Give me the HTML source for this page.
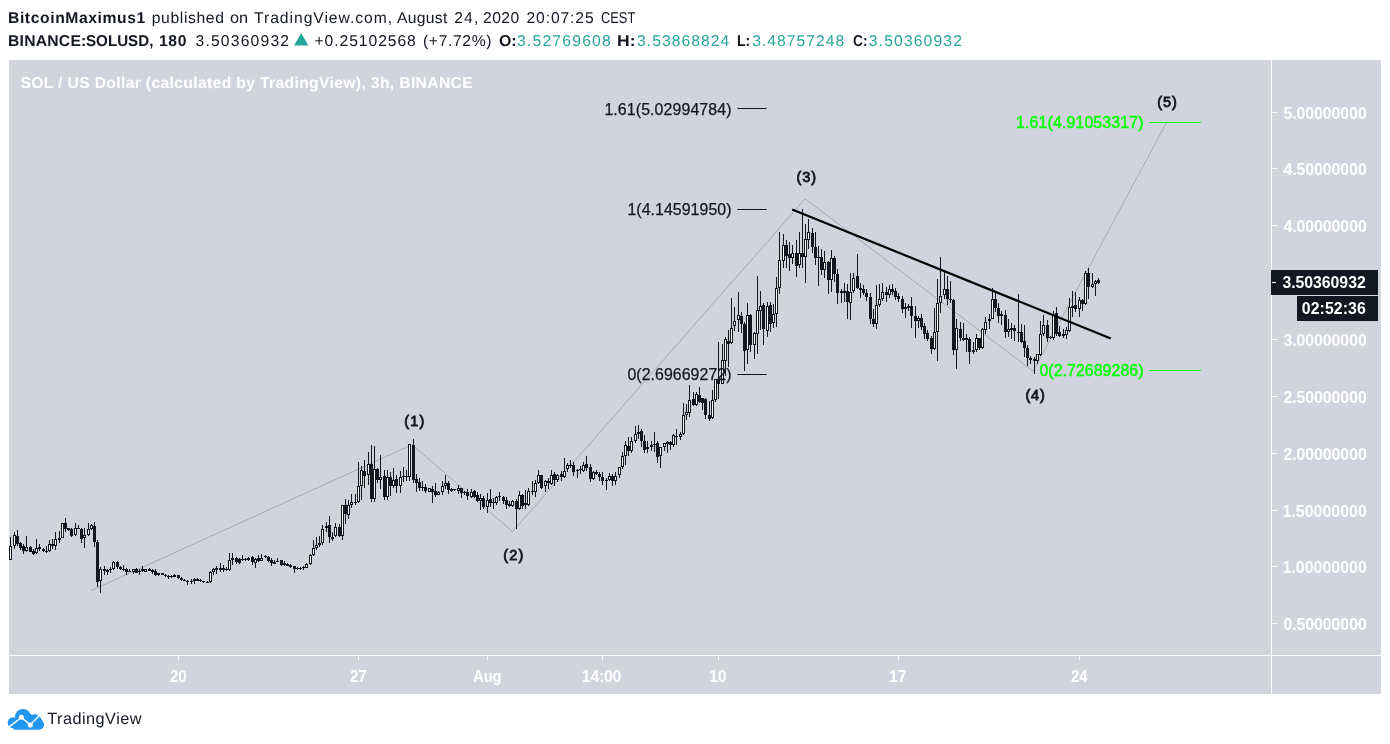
<!DOCTYPE html>
<html><head><meta charset="utf-8"><title>SOLUSD chart</title>
<style>
html,body{margin:0;padding:0;background:#fff}
body{width:1390px;height:744px;position:relative;overflow:hidden;font-family:'Liberation Sans',sans-serif}
.t{position:absolute;white-space:pre;line-height:1;font-family:'Liberation Sans',sans-serif;transform-origin:0 0}
#chart{position:absolute;left:9px;top:60px;width:1372px;height:634px;background:#d1d4dc}
svg{position:absolute;left:0;top:0}
.layer{position:absolute;left:0;top:0;width:1390px;height:744px;will-change:transform}
</style></head><body>
<div id="chart"></div>
<svg width="1390" height="744" viewBox="0 0 1390 744" shape-rendering="crispEdges">
<rect x="1271" y="60" width="1" height="634" fill="#fff"/>
<rect x="9" y="655" width="1372" height="1" fill="#fff"/>
<rect x="1272" y="112" width="5" height="1" fill="#fff"/><rect x="1272" y="168" width="5" height="1" fill="#fff"/><rect x="1272" y="225" width="5" height="1" fill="#fff"/><rect x="1272" y="339" width="5" height="1" fill="#fff"/><rect x="1272" y="396" width="5" height="1" fill="#fff"/><rect x="1272" y="453" width="5" height="1" fill="#fff"/><rect x="1272" y="510" width="5" height="1" fill="#fff"/><rect x="1272" y="566" width="5" height="1" fill="#fff"/><rect x="1272" y="623" width="5" height="1" fill="#fff"/><rect x="178" y="656" width="1" height="4" fill="#fff"/><rect x="358" y="656" width="1" height="4" fill="#fff"/><rect x="487" y="656" width="1" height="4" fill="#fff"/><rect x="602" y="656" width="1" height="4" fill="#fff"/><rect x="718" y="656" width="1" height="4" fill="#fff"/><rect x="898" y="656" width="1" height="4" fill="#fff"/><rect x="1079" y="656" width="1" height="4" fill="#fff"/>
<g shape-rendering="geometricPrecision" fill="none">
<path d="M90.7 590.9 L412 444.7 L512.5 531.6 L805.2 198.8 L1033.1 371.2 L1166 123.5" stroke="#a6a9b1" stroke-width="1"/>
<path d="M737.4 108.5H766.6M737.4 209.5H766.6M737.4 374.5H766.6" stroke="#131722" stroke-width="1"/>
<path d="M1149.3 122.5H1201M1149.3 370.5H1201" stroke="#00ff00" stroke-width="1.2"/>
</g>
</svg>

<svg width="1390" height="744" viewBox="0 0 1390 744" shape-rendering="crispEdges">
<path d="M10 537h1v23h-1zM9 546h3v14h-3zM14 532h1v17h-1zM13 535h3v11h-3zM17 530h1v16h-1zM16 536h3v8h-3zM20 542h1v8h-1zM19 543h3v5h-3zM23 544h1v10h-1zM22 546h3v5h-3zM26 536h1v16h-1zM25 547h3v4h-3zM30 546h1v6h-1zM29 547h3v5h-3zM33 549h1v6h-1zM32 551h3v3h-3zM36 539h1v15h-1zM35 548h3v5h-3zM39 544h1v7h-1zM38 547h3v2h-3zM43 548h1v4h-1zM42 549h3v2h-3zM46 546h1v7h-1zM45 551h3v1h-3zM49 540h1v12h-1zM48 544h3v7h-3zM52 539h1v10h-1zM51 544h3v2h-3zM55 532h1v18h-1zM54 539h3v7h-3zM59 531h1v12h-1zM58 538h3v2h-3zM62 523h1v15h-1zM61 523h3v15h-3zM65 518h1v14h-1zM64 523h3v6h-3zM68 528h1v3h-1zM67 528h3v2h-3zM71 528h1v9h-1zM70 529h3v7h-3zM75 523h1v13h-1zM74 528h3v7h-3zM78 525h1v4h-1zM77 528h3v1h-3zM81 528h1v15h-1zM80 529h3v10h-3zM84 528h1v20h-1zM83 535h3v3h-3zM88 523h1v13h-1zM87 529h3v6h-3zM91 524h1v6h-1zM90 525h3v4h-3zM94 522h1v25h-1zM93 526h3v16h-3zM97 540h1v47h-1zM96 542h3v40h-3zM100 567h1v26h-1zM99 569h3v12h-3zM104 566h1v9h-1zM103 569h3v2h-3zM107 569h1v6h-1zM106 570h3v2h-3zM110 567h1v6h-1zM109 569h3v1h-3zM113 561h1v9h-1zM112 562h3v7h-3zM117 561h1v8h-1zM116 562h3v5h-3zM120 566h1v4h-1zM119 567h3v2h-3zM123 565h1v6h-1zM122 569h3v1h-3zM126 568h1v7h-1zM125 569h3v3h-3zM129 569h1v3h-1zM128 571h3v1h-3zM133 569h1v5h-1zM132 569h3v3h-3zM136 568h1v5h-1zM135 569h3v4h-3zM139 569h1v6h-1zM138 571h3v1h-3zM142 566h1v6h-1zM141 569h3v2h-3zM145 569h1v3h-1zM144 569h3v3h-3zM149 568h1v3h-1zM148 569h3v2h-3zM152 569h1v5h-1zM151 570h3v2h-3zM155 569h1v7h-1zM154 571h3v4h-3zM158 573h1v3h-1zM157 573h3v2h-3zM162 573h1v2h-1zM161 573h3v2h-3zM165 574h1v3h-1zM164 575h3v1h-3zM168 575h1v4h-1zM167 576h3v1h-3zM171 575h1v3h-1zM170 576h3v1h-3zM174 574h1v3h-1zM173 575h3v2h-3zM178 575h1v4h-1zM177 575h3v3h-3zM181 577h1v4h-1zM180 578h3v2h-3zM184 579h1v2h-1zM183 580h3v1h-3zM187 580h1v5h-1zM186 581h3v1h-3zM191 579h1v5h-1zM190 581h3v1h-3zM194 578h1v6h-1zM193 579h3v2h-3zM197 578h1v3h-1zM196 579h3v2h-3zM200 579h1v3h-1zM199 580h3v1h-3zM203 581h1v2h-1zM202 581h3v1h-3zM207 581h1v2h-1zM206 582h3v1h-3zM210 571h1v12h-1zM209 572h3v10h-3zM213 568h1v7h-1zM212 569h3v3h-3zM216 566h1v8h-1zM215 568h3v2h-3zM220 563h1v9h-1zM219 568h3v2h-3zM223 565h1v7h-1zM222 568h3v2h-3zM226 567h1v4h-1zM225 569h3v1h-3zM229 553h1v18h-1zM228 560h3v10h-3zM232 553h1v12h-1zM231 558h3v2h-3zM236 557h1v7h-1zM235 558h3v4h-3zM239 558h1v6h-1zM238 559h3v4h-3zM242 555h1v6h-1zM241 559h3v1h-3zM245 558h1v3h-1zM244 559h3v1h-3zM248 557h1v4h-1zM247 558h3v2h-3zM252 556h1v9h-1zM251 557h3v5h-3zM255 558h1v10h-1zM254 559h3v4h-3zM258 555h1v7h-1zM257 558h3v3h-3zM261 554h1v7h-1zM260 558h3v3h-3zM265 555h1v3h-1zM264 556h3v1h-3zM268 556h1v6h-1zM267 557h3v4h-3zM271 558h1v8h-1zM270 560h3v3h-3zM274 560h1v4h-1zM273 562h3v2h-3zM277 558h1v4h-1zM276 561h3v1h-3zM281 560h1v6h-1zM280 560h3v5h-3zM284 561h1v5h-1zM283 563h3v2h-3zM287 563h1v3h-1zM286 564h3v2h-3zM290 564h1v4h-1zM289 565h3v2h-3zM294 566h1v7h-1zM293 566h3v3h-3zM297 567h1v3h-1zM296 568h3v1h-3zM300 567h1v3h-1zM299 568h3v1h-3zM303 566h1v4h-1zM302 567h3v1h-3zM306 563h1v5h-1zM305 564h3v4h-3zM310 554h1v11h-1zM309 555h3v9h-3zM313 540h1v16h-1zM312 548h3v7h-3zM316 537h1v13h-1zM315 545h3v3h-3zM319 536h1v11h-1zM318 543h3v2h-3zM322 525h1v20h-1zM321 529h3v14h-3zM326 522h1v10h-1zM325 526h3v2h-3zM329 516h1v27h-1zM328 525h3v12h-3zM332 532h1v9h-1zM331 537h3v2h-3zM335 523h1v14h-1zM334 527h3v9h-3zM339 524h1v13h-1zM338 527h3v9h-3zM342 505h1v35h-1zM341 505h3v31h-3zM345 499h1v25h-1zM344 505h3v9h-3zM348 500h1v19h-1zM347 505h3v10h-3zM351 494h1v14h-1zM350 502h3v3h-3zM355 494h1v11h-1zM354 502h3v1h-3zM358 462h1v41h-1zM357 486h3v16h-3zM361 466h1v34h-1zM360 470h3v16h-3zM364 460h1v28h-1zM363 471h3v5h-3zM368 452h1v33h-1zM367 464h3v11h-3zM371 445h1v57h-1zM370 464h3v35h-3zM374 446h1v56h-1zM373 469h3v30h-3zM377 468h1v15h-1zM376 469h3v11h-3zM380 455h1v34h-1zM379 477h3v3h-3zM384 470h1v30h-1zM383 476h3v21h-3zM387 470h1v30h-1zM386 477h3v20h-3zM390 472h1v24h-1zM389 477h3v9h-3zM393 468h1v20h-1zM392 480h3v6h-3zM396 475h1v18h-1zM395 479h3v7h-3zM400 471h1v22h-1zM399 477h3v9h-3zM403 467h1v15h-1zM402 476h3v1h-3zM406 470h1v11h-1zM405 476h3v1h-3zM409 444h1v37h-1zM408 444h3v33h-3zM413 439h1v44h-1zM412 445h3v35h-3zM416 474h1v18h-1zM415 479h3v4h-3zM419 478h1v13h-1zM418 482h3v6h-3zM422 481h1v10h-1zM421 487h3v1h-3zM425 484h1v9h-1zM424 487h3v4h-3zM429 488h1v4h-1zM428 488h3v4h-3zM432 486h1v17h-1zM431 489h3v3h-3zM435 483h1v14h-1zM434 491h3v4h-3zM438 491h1v4h-1zM437 492h3v3h-3zM442 481h1v14h-1zM441 486h3v6h-3zM445 475h1v14h-1zM444 483h3v3h-3zM448 481h1v13h-1zM447 483h3v7h-3zM451 488h1v4h-1zM450 489h3v2h-3zM454 489h1v2h-1zM453 489h3v1h-3zM458 485h1v9h-1zM457 488h3v3h-3zM461 488h1v10h-1zM460 488h3v5h-3zM464 491h1v4h-1zM463 492h3v1h-3zM467 489h1v11h-1zM466 492h3v4h-3zM471 489h1v9h-1zM470 492h3v5h-3zM474 490h1v8h-1zM473 491h3v6h-3zM477 492h1v10h-1zM476 495h3v6h-3zM480 494h1v16h-1zM479 498h3v3h-3zM483 496h1v13h-1zM482 498h3v9h-3zM487 493h1v20h-1zM486 500h3v7h-3zM490 489h1v18h-1zM489 499h3v4h-3zM493 498h1v11h-1zM492 502h3v1h-3zM496 496h1v9h-1zM495 497h3v6h-3zM499 492h1v9h-1zM498 496h3v1h-3zM503 496h1v8h-1zM502 497h3v4h-3zM506 497h1v12h-1zM505 500h3v5h-3zM509 501h1v6h-1zM508 504h3v2h-3zM512 500h1v7h-1zM511 501h3v5h-3zM516 499h1v30h-1zM515 501h3v8h-3zM519 491h1v19h-1zM518 495h3v14h-3zM522 494h1v15h-1zM521 495h3v11h-3zM525 490h1v19h-1zM524 503h3v2h-3zM528 488h1v18h-1zM527 491h3v14h-3zM532 481h1v14h-1zM531 491h3v1h-3zM535 480h1v17h-1zM534 483h3v9h-3zM538 470h1v14h-1zM537 475h3v8h-3zM541 475h1v14h-1zM540 475h3v13h-3zM545 480h1v12h-1zM544 481h3v5h-3zM548 478h1v11h-1zM547 481h3v2h-3zM551 470h1v15h-1zM550 475h3v9h-3zM554 472h1v14h-1zM553 474h3v6h-3zM557 474h1v8h-1zM556 475h3v5h-3zM561 471h1v10h-1zM560 474h3v3h-3zM564 458h1v20h-1zM563 471h3v6h-3zM567 463h1v9h-1zM566 465h3v4h-3zM570 460h1v8h-1zM569 465h3v1h-3zM573 462h1v14h-1zM572 465h3v7h-3zM577 469h1v9h-1zM576 470h3v1h-3zM580 466h1v8h-1zM579 469h3v1h-3zM583 462h1v10h-1zM582 465h3v6h-3zM586 456h1v15h-1zM585 464h3v4h-3zM590 464h1v18h-1zM589 467h3v12h-3zM593 471h1v9h-1zM592 472h3v7h-3zM596 470h1v5h-1zM595 472h3v2h-3zM599 472h1v9h-1zM598 474h3v3h-3zM602 472h1v13h-1zM601 477h3v4h-3zM606 478h1v12h-1zM605 480h3v1h-3zM609 473h1v8h-1zM608 476h3v4h-3zM612 474h1v12h-1zM611 476h3v5h-3zM615 472h1v13h-1zM614 476h3v5h-3zM619 467h1v11h-1zM618 467h3v8h-3zM622 452h1v17h-1zM621 456h3v11h-3zM625 441h1v24h-1zM624 445h3v11h-3zM628 437h1v19h-1zM627 446h3v5h-3zM631 437h1v16h-1zM630 441h3v10h-3zM635 426h1v17h-1zM634 434h3v7h-3zM638 425h1v14h-1zM637 432h3v2h-3zM641 429h1v18h-1zM640 431h3v10h-3zM644 435h1v18h-1zM643 441h3v9h-3zM647 441h1v12h-1zM646 447h3v2h-3zM651 441h1v10h-1zM650 445h3v2h-3zM654 432h1v20h-1zM653 444h3v1h-3zM657 441h1v22h-1zM656 443h3v14h-3zM660 447h1v21h-1zM659 447h3v9h-3zM664 443h1v8h-1zM663 443h3v4h-3zM667 441h1v12h-1zM666 442h3v2h-3zM670 441h1v9h-1zM669 442h3v3h-3zM673 434h1v13h-1zM672 435h3v10h-3zM676 429h1v16h-1zM675 436h3v1h-3zM680 432h1v8h-1zM679 434h3v3h-3zM683 403h1v32h-1zM682 415h3v19h-3zM686 404h1v16h-1zM685 412h3v3h-3zM689 385h1v32h-1zM688 400h3v13h-3zM693 392h1v14h-1zM692 399h3v6h-3zM696 392h1v14h-1zM695 394h3v11h-3zM699 387h1v16h-1zM698 395h3v7h-3zM702 398h1v12h-1zM701 398h3v5h-3zM705 398h1v21h-1zM704 399h3v16h-3zM709 401h1v20h-1zM708 415h3v4h-3zM712 390h1v29h-1zM711 400h3v18h-3zM715 379h1v23h-1zM714 379h3v21h-3zM718 342h1v57h-1zM717 379h3v5h-3zM722 344h1v40h-1zM721 360h3v24h-3zM725 337h1v39h-1zM724 339h3v22h-3zM728 330h1v37h-1zM727 341h3v3h-3zM731 298h1v46h-1zM730 328h3v15h-3zM734 307h1v24h-1zM733 321h3v5h-3zM738 292h1v40h-1zM737 315h3v5h-3zM741 312h1v21h-1zM740 316h3v8h-3zM744 322h1v49h-1zM743 324h3v27h-3zM747 303h1v61h-1zM746 315h3v35h-3zM750 314h1v38h-1zM749 315h3v30h-3zM754 332h1v27h-1zM753 333h3v12h-3zM757 276h1v78h-1zM756 310h3v24h-3zM760 291h1v39h-1zM759 306h3v5h-3zM763 303h1v42h-1zM762 305h3v24h-3zM767 302h1v35h-1zM766 306h3v25h-3zM770 302h1v30h-1zM769 305h3v19h-3zM773 304h1v24h-1zM772 314h3v9h-3zM776 277h1v50h-1zM775 288h3v26h-3zM779 232h1v62h-1zM778 260h3v28h-3zM783 234h1v34h-1zM782 245h3v16h-3zM786 240h1v28h-1zM785 245h3v11h-3zM789 242h1v29h-1zM788 254h3v4h-3zM792 245h1v19h-1zM791 253h3v5h-3zM796 240h1v37h-1zM795 253h3v13h-3zM799 232h1v36h-1zM798 253h3v12h-3zM802 209h1v59h-1zM801 253h3v4h-3zM805 224h1v59h-1zM804 239h3v18h-3zM808 219h1v30h-1zM807 232h3v8h-3zM812 228h1v25h-1zM811 233h3v14h-3zM815 232h1v33h-1zM814 247h3v11h-3zM818 246h1v40h-1zM817 257h3v1h-3zM821 249h1v26h-1zM820 257h3v13h-3zM824 251h1v27h-1zM823 262h3v8h-3zM828 261h1v33h-1zM827 262h3v18h-3zM831 250h1v42h-1zM830 258h3v22h-3zM834 256h1v26h-1zM833 258h3v16h-3zM837 269h1v35h-1zM836 274h3v19h-3zM841 289h1v14h-1zM840 291h3v2h-3zM844 283h1v19h-1zM843 291h3v2h-3zM847 284h1v35h-1zM846 291h3v11h-3zM850 273h1v47h-1zM849 292h3v11h-3zM853 273h1v20h-1zM852 278h3v13h-3zM857 254h1v35h-1zM856 276h3v12h-3zM860 283h1v15h-1zM859 288h3v2h-3zM863 285h1v10h-1zM862 289h3v4h-3zM866 289h1v12h-1zM865 293h3v4h-3zM870 293h1v31h-1zM869 297h3v22h-3zM873 309h1v18h-1zM872 319h3v5h-3zM876 285h1v44h-1zM875 305h3v19h-3zM879 284h1v23h-1zM878 299h3v6h-3zM882 283h1v18h-1zM881 292h3v7h-3zM886 287h1v15h-1zM885 292h3v3h-3zM889 285h1v13h-1zM888 289h3v6h-3zM892 284h1v11h-1zM891 289h3v3h-3zM895 288h1v12h-1zM894 291h3v6h-3zM898 293h1v9h-1zM897 296h3v3h-3zM902 296h1v17h-1zM901 299h3v10h-3zM905 303h1v15h-1zM904 307h3v2h-3zM908 304h1v7h-1zM907 306h3v2h-3zM911 297h1v31h-1zM910 306h3v10h-3zM915 306h1v32h-1zM914 316h3v5h-3zM918 316h1v12h-1zM917 318h3v3h-3zM921 314h1v16h-1zM920 318h3v9h-3zM924 323h1v16h-1zM923 326h3v8h-3zM927 330h1v11h-1zM926 333h3v6h-3zM931 336h1v18h-1zM930 338h3v11h-3zM934 308h1v42h-1zM933 332h3v17h-3zM937 279h1v82h-1zM936 303h3v29h-3zM940 257h1v56h-1zM939 296h3v7h-3zM944 271h1v28h-1zM943 289h3v6h-3zM947 276h1v29h-1zM946 289h3v10h-3zM950 281h1v22h-1zM949 299h3v1h-3zM953 299h1v56h-1zM952 300h3v50h-3zM956 319h1v50h-1zM955 328h3v22h-3zM960 322h1v19h-1zM959 329h3v9h-3zM963 323h1v18h-1zM962 338h3v2h-3zM966 334h1v18h-1zM965 338h3v2h-3zM969 337h1v27h-1zM968 339h3v13h-3zM973 342h1v12h-1zM972 350h3v2h-3zM976 334h1v18h-1zM975 338h3v12h-3zM979 338h1v12h-1zM978 338h3v10h-3zM982 328h1v21h-1zM981 329h3v19h-3zM985 317h1v17h-1zM984 322h3v8h-3zM989 314h1v15h-1zM988 319h3v2h-3zM992 288h1v31h-1zM991 299h3v20h-3zM995 293h1v19h-1zM994 299h3v9h-3zM998 303h1v20h-1zM997 308h3v8h-3zM1001 311h1v14h-1zM1000 314h3v2h-3zM1005 310h1v28h-1zM1004 315h3v17h-3zM1008 319h1v18h-1zM1007 329h3v3h-3zM1011 323h1v16h-1zM1010 328h3v2h-3zM1014 325h1v16h-1zM1013 328h3v3h-3zM1018 294h1v48h-1zM1017 332h3v1h-3zM1021 324h1v19h-1zM1020 332h3v10h-3zM1024 325h1v32h-1zM1023 341h3v7h-3zM1027 345h1v21h-1zM1026 348h3v10h-3zM1030 356h1v8h-1zM1029 358h3v2h-3zM1034 357h1v17h-1zM1033 359h3v2h-3zM1037 354h1v10h-1zM1036 354h3v7h-3zM1040 321h1v35h-1zM1039 334h3v21h-3zM1043 315h1v21h-1zM1042 325h3v9h-3zM1047 320h1v22h-1zM1046 325h3v13h-3zM1050 336h1v3h-1zM1049 337h3v1h-3zM1053 311h1v29h-1zM1052 315h3v23h-3zM1056 307h1v29h-1zM1055 313h3v21h-3zM1059 326h1v11h-1zM1058 332h3v4h-3zM1063 329h1v9h-1zM1062 334h3v2h-3zM1066 327h1v12h-1zM1065 330h3v5h-3zM1069 298h1v34h-1zM1068 307h3v24h-3zM1072 291h1v26h-1zM1071 306h3v2h-3zM1075 292h1v20h-1zM1074 305h3v4h-3zM1079 297h1v20h-1zM1078 300h3v9h-3zM1082 299h1v12h-1zM1081 300h3v4h-3zM1085 271h1v34h-1zM1084 273h3v31h-3zM1088 268h1v31h-1zM1087 273h3v14h-3zM1092 273h1v15h-1zM1091 284h3v3h-3zM1095 280h1v16h-1zM1094 281h3v3h-3zM1098 278h1v6h-1zM1097 280h3v3h-3z" fill="#131722"/><path d="M10 547h1v12h-1zM14 536h1v9h-1zM26 548h1v2h-1zM36 549h1v3h-1zM49 545h1v5h-1zM55 540h1v5h-1zM62 524h1v13h-1zM75 529h1v5h-1zM84 536h1v1h-1zM88 530h1v4h-1zM91 526h1v2h-1zM100 570h1v10h-1zM113 563h1v5h-1zM133 570h1v1h-1zM145 570h1v1h-1zM210 573h1v8h-1zM213 570h1v1h-1zM229 561h1v8h-1zM255 560h1v2h-1zM261 559h1v1h-1zM306 565h1v2h-1zM310 556h1v7h-1zM313 549h1v5h-1zM316 546h1v1h-1zM322 530h1v12h-1zM335 528h1v7h-1zM342 506h1v29h-1zM348 506h1v8h-1zM351 503h1v1h-1zM358 487h1v14h-1zM361 471h1v14h-1zM368 465h1v9h-1zM374 470h1v28h-1zM380 478h1v1h-1zM387 478h1v18h-1zM393 481h1v4h-1zM400 478h1v7h-1zM409 445h1v31h-1zM429 489h1v2h-1zM438 493h1v1h-1zM442 487h1v4h-1zM445 484h1v1h-1zM458 489h1v1h-1zM471 493h1v3h-1zM480 499h1v1h-1zM487 501h1v5h-1zM496 498h1v4h-1zM512 502h1v3h-1zM519 496h1v12h-1zM528 492h1v12h-1zM535 484h1v7h-1zM538 476h1v6h-1zM545 482h1v3h-1zM551 476h1v7h-1zM557 476h1v3h-1zM564 472h1v4h-1zM567 466h1v2h-1zM583 466h1v4h-1zM593 473h1v5h-1zM609 477h1v2h-1zM615 477h1v3h-1zM619 468h1v6h-1zM622 457h1v9h-1zM625 446h1v9h-1zM631 442h1v8h-1zM635 435h1v5h-1zM660 448h1v7h-1zM664 444h1v2h-1zM673 436h1v8h-1zM680 435h1v1h-1zM683 416h1v17h-1zM686 413h1v1h-1zM689 401h1v11h-1zM696 395h1v9h-1zM712 401h1v16h-1zM715 380h1v19h-1zM722 361h1v22h-1zM725 340h1v20h-1zM731 329h1v13h-1zM734 322h1v3h-1zM738 316h1v3h-1zM747 316h1v33h-1zM754 334h1v10h-1zM757 311h1v22h-1zM760 307h1v3h-1zM767 307h1v23h-1zM773 315h1v7h-1zM776 289h1v24h-1zM779 261h1v26h-1zM783 246h1v14h-1zM792 254h1v3h-1zM799 254h1v10h-1zM805 240h1v16h-1zM808 233h1v6h-1zM824 263h1v6h-1zM831 259h1v20h-1zM850 293h1v9h-1zM853 279h1v11h-1zM876 306h1v17h-1zM879 300h1v4h-1zM882 293h1v5h-1zM889 290h1v4h-1zM918 319h1v1h-1zM934 333h1v15h-1zM937 304h1v27h-1zM940 297h1v5h-1zM944 290h1v4h-1zM956 329h1v20h-1zM976 339h1v10h-1zM982 330h1v17h-1zM985 323h1v6h-1zM992 300h1v18h-1zM1008 330h1v1h-1zM1037 355h1v5h-1zM1040 335h1v19h-1zM1043 326h1v7h-1zM1053 316h1v21h-1zM1066 331h1v3h-1zM1069 308h1v22h-1zM1079 301h1v7h-1zM1085 274h1v29h-1zM1092 285h1v1h-1zM1095 282h1v1h-1z" fill="#ffffff"/>
<path d="M792.2 209.6L1110.8 338.5" stroke="#000" stroke-width="2.2" shape-rendering="geometricPrecision"/>
<rect x="1271" y="270" width="107" height="25" fill="#131722"/>
<rect x="1297" y="296" width="81" height="25" fill="#131722"/>
<rect x="1272" y="282" width="4" height="1" fill="#fff"/>
<path d="M294.0 45.6L301.2 33.3L308.4 45.6Z" fill="#26a69a" shape-rendering="geometricPrecision"/>
<g shape-rendering="geometricPrecision">
<circle cx="13.1" cy="722.6" r="5.4" fill="#2196f3"/><circle cx="23" cy="716.9" r="8" fill="#2196f3"/>
<circle cx="35" cy="718.5" r="4.2" fill="#2196f3"/><circle cx="39.0" cy="724.7" r="5.1" fill="#2196f3"/>
<rect x="12.5" y="719" width="27" height="10.8" rx="3" fill="#2196f3"/>
<path d="M15 722L30 714L36 716L39.9 716.4L42.5 721L40 729H14Z" fill="#2196f3"/>
<path d="M8.5 727.4L21.4 717.4L30.3 724.9L40.5 714.3" stroke="#fff" stroke-width="1.4" fill="none"/>
<circle cx="21.4" cy="717.3" r="2.5" fill="#fff"/><circle cx="30.3" cy="724.9" r="2.5" fill="#fff"/>
</g>
</svg>
<div class="layer">
<span class="t" style="left:8.00px;top:11px;font-size:15.7px;font-weight:700;color:#131722;letter-spacing:0.593px;text-rendering:geometricPrecision">BitcoinMaximus1</span>
<span class="t" style="left:151.70px;top:11px;font-size:15.7px;font-weight:400;color:#131722;letter-spacing:0.633px;text-rendering:geometricPrecision">published</span>
<span class="t" style="left:230.20px;top:11px;font-size:15.7px;font-weight:400;color:#131722;transform:scaleX(1.0404);text-rendering:geometricPrecision">on</span>
<span class="t" style="left:254.10px;top:11px;font-size:15.7px;font-weight:400;color:#131722;letter-spacing:0.943px;text-rendering:geometricPrecision">TradingView.com,</span>
<span class="t" style="left:397.10px;top:11px;font-size:15.7px;font-weight:400;color:#131722;letter-spacing:0.284px;text-rendering:geometricPrecision">August</span>
<span class="t" style="left:454.20px;top:11px;font-size:15.7px;font-weight:400;color:#131722;letter-spacing:1.175px;text-rendering:geometricPrecision">24,</span>
<span class="t" style="left:483.00px;top:11px;font-size:15.7px;font-weight:400;color:#131722;letter-spacing:0.409px;text-rendering:geometricPrecision">2020</span>
<span class="t" style="left:526.50px;top:11px;font-size:15.7px;font-weight:400;color:#131722;letter-spacing:0.866px;text-rendering:geometricPrecision">20:07:25</span>
<span class="t" style="left:601.00px;top:11px;font-size:15.7px;font-weight:400;color:#131722;transform:scaleX(0.8188);text-rendering:geometricPrecision">CEST</span>
<span class="t" style="left:8.00px;top:34px;font-size:15.7px;font-weight:700;color:#131722;letter-spacing:0.233px;text-rendering:geometricPrecision">BINANCE:</span>
<span class="t" style="left:86.40px;top:34px;font-size:15.7px;font-weight:700;color:#131722;transform:scaleX(0.9658);text-rendering:geometricPrecision">SOLUSD,</span>
<span class="t" style="left:159.00px;top:34px;font-size:15.7px;font-weight:700;color:#131722;letter-spacing:0.625px;text-rendering:geometricPrecision">180</span>
<span class="t" style="left:195.50px;top:34px;font-size:15.7px;font-weight:400;color:#131722;letter-spacing:1.183px;text-rendering:geometricPrecision">3.50360932</span>
<span class="t" style="left:314.50px;top:34px;font-size:15.7px;font-weight:400;color:#131722;letter-spacing:0.928px;text-rendering:geometricPrecision">+0.25102568</span>
<span class="t" style="left:423.00px;top:34px;font-size:15.7px;font-weight:400;color:#131722;letter-spacing:0.633px;text-rendering:geometricPrecision">(+7.72%)</span>
<span class="t" style="left:498.90px;top:34px;font-size:15.7px;font-weight:700;color:#131722;transform:scaleX(1.0122);text-rendering:geometricPrecision">O:</span>
<span class="t" style="left:517.00px;top:34px;font-size:15.7px;font-weight:400;color:#26a69a;letter-spacing:1.205px;text-rendering:geometricPrecision">3.52769608</span>
<span class="t" style="left:617.48px;top:34px;font-size:15.7px;font-weight:700;color:#131722;transform:scaleX(1.1166);text-rendering:geometricPrecision">H:</span>
<span class="t" style="left:637.10px;top:34px;font-size:15.7px;font-weight:400;color:#26a69a;letter-spacing:1.027px;text-rendering:geometricPrecision">3.53868824</span>
<span class="t" style="left:737.00px;top:34px;font-size:15.7px;font-weight:700;color:#131722;transform:scaleX(0.8981);text-rendering:geometricPrecision">L:</span>
<span class="t" style="left:752.20px;top:34px;font-size:15.7px;font-weight:400;color:#26a69a;letter-spacing:1.027px;text-rendering:geometricPrecision">3.48757248</span>
<span class="t" style="left:852.90px;top:34px;font-size:15.7px;font-weight:700;color:#131722;transform:scaleX(0.8742);text-rendering:geometricPrecision">C:</span>
<span class="t" style="left:868.80px;top:34px;font-size:15.7px;font-weight:400;color:#26a69a;letter-spacing:1.138px;text-rendering:geometricPrecision">3.50360932</span>
<span class="t" style="left:20.40px;top:76px;font-size:15.7px;font-weight:700;color:#ffffff;letter-spacing:0.342px;text-rendering:geometricPrecision">SOL / US Dollar (calculated by TradingView), 3h, BINANCE</span>
<span class="t" style="left:1283.40px;top:106px;font-size:15.8px;font-weight:700;color:#ffffff;letter-spacing:-0.019px">5.00000000</span>
<span class="t" style="left:1283.40px;top:162px;font-size:15.8px;font-weight:700;color:#ffffff;letter-spacing:-0.019px">4.50000000</span>
<span class="t" style="left:1283.40px;top:219px;font-size:15.8px;font-weight:700;color:#ffffff;letter-spacing:-0.019px">4.00000000</span>
<span class="t" style="left:1283.40px;top:333px;font-size:15.8px;font-weight:700;color:#ffffff;letter-spacing:-0.019px">3.00000000</span>
<span class="t" style="left:1283.40px;top:390px;font-size:15.8px;font-weight:700;color:#ffffff;letter-spacing:-0.019px">2.50000000</span>
<span class="t" style="left:1283.40px;top:447px;font-size:15.8px;font-weight:700;color:#ffffff;letter-spacing:-0.019px">2.00000000</span>
<span class="t" style="left:1282.40px;top:504px;font-size:15.8px;font-weight:700;color:#ffffff;letter-spacing:0.092px">1.50000000</span>
<span class="t" style="left:1282.40px;top:560px;font-size:15.8px;font-weight:700;color:#ffffff;letter-spacing:0.092px">1.00000000</span>
<span class="t" style="left:1283.40px;top:617px;font-size:15.8px;font-weight:700;color:#ffffff;letter-spacing:-0.019px">0.50000000</span>
<span class="t" style="left:1282.40px;top:275px;font-size:15.8px;font-weight:700;color:#ffffff;letter-spacing:-0.019px">3.50360932</span>
<span class="t" style="left:1301.80px;top:301px;font-size:15.8px;font-weight:700;color:#ffffff;letter-spacing:0.093px">02:52:36</span>
<span class="t" style="left:169.95px;top:669px;font-size:15.8px;font-weight:700;color:#ffffff;transform:scaleX(0.9502)">20</span>
<span class="t" style="left:349.85px;top:669px;font-size:15.8px;font-weight:700;color:#ffffff;transform:scaleX(0.9502)">27</span>
<span class="t" style="left:473.40px;top:669px;font-size:15.8px;font-weight:700;color:#ffffff;transform:scaleX(0.9316)">Aug</span>
<span class="t" style="left:581.80px;top:669px;font-size:15.8px;font-weight:700;color:#ffffff;letter-spacing:-0.204px">14:00</span>
<span class="t" style="left:708.84px;top:669px;font-size:15.8px;font-weight:700;color:#ffffff;transform:scaleX(1.0068)">10</span>
<span class="t" style="left:888.74px;top:669px;font-size:15.8px;font-weight:700;color:#ffffff;transform:scaleX(1.0068)">17</span>
<span class="t" style="left:1070.65px;top:669px;font-size:15.8px;font-weight:700;color:#ffffff;transform:scaleX(0.9502)">24</span>
<span class="t" style="left:604.40px;top:102px;font-size:15.9px;font-weight:400;color:#131722;letter-spacing:0.108px;-webkit-text-stroke:0.25px #131722">1.61(5.02994784)</span>
<span class="t" style="left:627.40px;top:202px;font-size:15.9px;font-weight:400;color:#131722;letter-spacing:0.060px;-webkit-text-stroke:0.25px #131722">1(4.14591950)</span>
<span class="t" style="left:627.40px;top:367px;font-size:15.9px;font-weight:400;color:#131722;letter-spacing:0.060px;-webkit-text-stroke:0.25px #131722">0(2.69669272)</span>
<span class="t" style="left:1016.10px;top:115px;font-size:15.9px;font-weight:400;color:#00ff00;letter-spacing:0.128px;-webkit-text-stroke:0.45px #00ff00">1.61(4.91053317)</span>
<span class="t" style="left:1039.40px;top:363px;font-size:15.9px;font-weight:400;color:#00ff00;letter-spacing:0.060px;-webkit-text-stroke:0.45px #00ff00">0(2.72689286)</span>
<span class="t" style="left:404.30px;top:414px;font-size:14.5px;font-weight:400;color:#131722;letter-spacing:1.104px;-webkit-text-stroke:0.8px #131722">(1)</span>
<span class="t" style="left:503.30px;top:548px;font-size:14.5px;font-weight:400;color:#131722;letter-spacing:1.204px;-webkit-text-stroke:0.8px #131722">(2)</span>
<span class="t" style="left:796.50px;top:170px;font-size:14.5px;font-weight:400;color:#131722;letter-spacing:0.904px;-webkit-text-stroke:0.8px #131722">(3)</span>
<span class="t" style="left:1025.40px;top:388px;font-size:14.5px;font-weight:400;color:#131722;letter-spacing:0.854px;-webkit-text-stroke:0.8px #131722">(4)</span>
<span class="t" style="left:1157.30px;top:95px;font-size:14.5px;font-weight:400;color:#131722;letter-spacing:0.904px;-webkit-text-stroke:0.8px #131722">(5)</span>
<span class="t" style="left:47.20px;top:711px;font-size:16.3px;font-weight:400;color:#131722;letter-spacing:0.476px;text-rendering:geometricPrecision">TradingView</span>
</div>
</body></html>
